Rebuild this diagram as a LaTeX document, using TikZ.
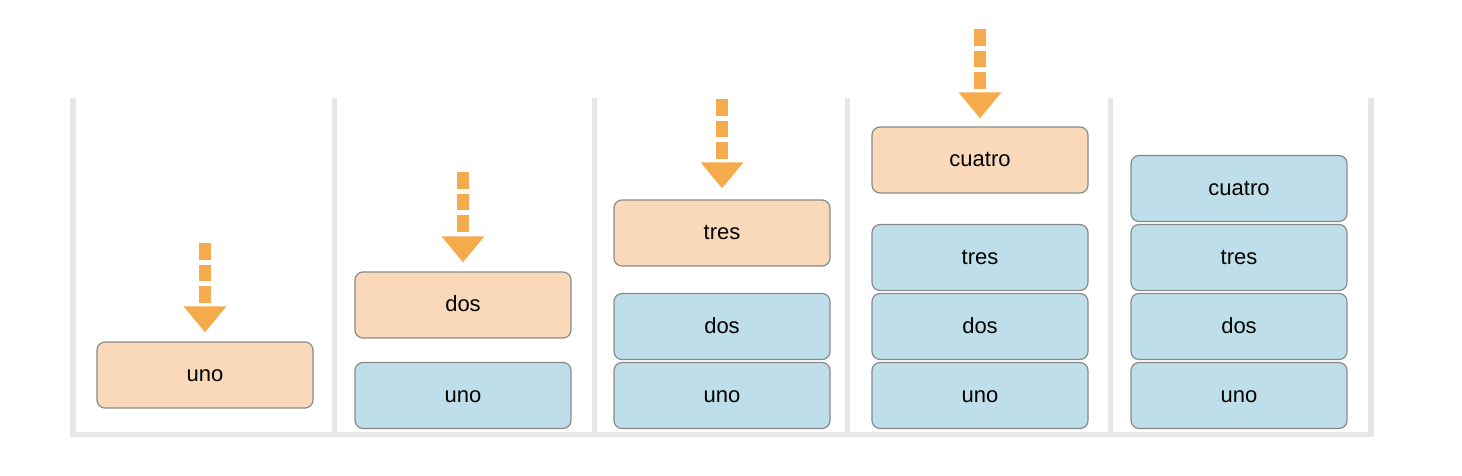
\documentclass[tikz,border=0pt]{standalone}
\usepackage{xcolor}
\usepackage{fontspec}
\setmainfont{Liberation Sans}
\usetikzlibrary{arrows.meta}

\definecolor{neuorange}{HTML}{F9D9B9}
\definecolor{altblau}{HTML}{BEDFEA}
\definecolor{pfeilorange}{HTML}{F5AA4C}
\definecolor{rahmengrau}{HTML}{E6E6E6}
\definecolor{randgrau}{HTML}{8A8A8A}

\begin{document}
\begin{tikzpicture}[x=1pt, y=-1pt,
kasten/.style={rectangle, rounded corners=8pt, draw=randgrau, line width=1.2pt, fill=altblau,
  minimum width=216pt, minimum height=66pt, inner sep=0pt, text height=15pt, text depth=2pt,
  font=\fontsize{22}{26}\selectfont},
neukasten/.style={kasten, fill=neuorange},
pfeil/.style={pfeilorange, line width=12pt, dash pattern=on 16.7pt off 5pt,
  -{Triangle[width=41pt, length=26pt]}, shorten >=9pt},
rahmen/.style={rahmengrau, line width=5.5pt},
]
\useasboundingbox (0,0) rectangle (1462,476);

\draw[rahmen] (73,98) -- (73,434.5) -- (1371,434.5) -- (1371,98);
\draw[rahmen] (334.5,98) -- (334.5,434.5);
\draw[rahmen] (594.5,98) -- (594.5,434.5);
\draw[rahmen] (847.5,98) -- (847.5,434.5);
\draw[rahmen] (1110.5,98) -- (1110.5,434.5);

% erstes Feld
\node[neukasten] (A1) at (205,375){uno};
\coordinate (P1) at (205,243);
\draw[pfeil] (P1) -- (A1.north);

% zweites Feld
\node[kasten] (B1) at (463,395.5){uno};
\node[neukasten] (B2) at (463,305){dos};
\coordinate (P2) at (463,172);
\draw[pfeil] (P2) -- (B2.north);

% drittes Feld
\node[kasten] (C1) at (722,395.5){uno};
\node[kasten] (C2) at (722,326.5){dos};
\node[neukasten] (C3) at (722,233){tres};
\coordinate (P3) at (722,99);
\draw[pfeil, shorten >=11pt] (P3) -- (C3.north);

% viertes Feld
\node[kasten] (D1) at (980,395.5){uno};
\node[kasten] (D2) at (980,326.5){dos};
\node[kasten] (D3) at (980,257.5){tres};
\node[neukasten] (D4) at (980,160){cuatro};
\coordinate (P4) at (980,29);
\draw[pfeil, shorten >=8pt] (P4) -- (D4.north);

% fuenftes Feld
\node[kasten] (E1) at (1239,395.5){uno};
\node[kasten] (E2) at (1239,326.5){dos};
\node[kasten] (E3) at (1239,257.5){tres};
\node[kasten] (E4) at (1239,188.5){cuatro};

\end{tikzpicture}
\end{document}
